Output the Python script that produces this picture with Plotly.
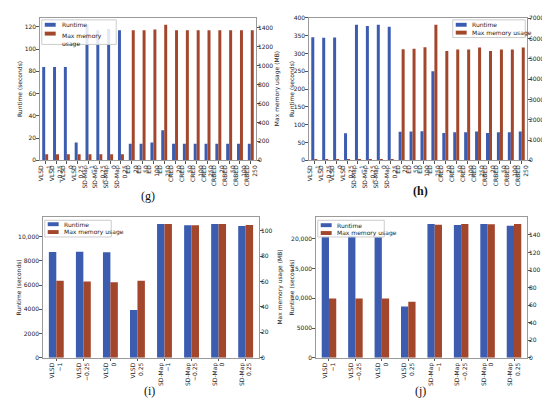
import plotly.graph_objects as go

# ---------------- data ----------------
cats_gh = ["VLSD<br>−1", "VLSD<br>−0.25", "VLSD<br>0", "VLSD<br>0.25",
           "SD-Map<br>−1", "SD-Map<br>−0.25", "SD-Map<br>0", "SD-Map<br>0.25",
           "ED<br>20", "ED<br>50", "ED<br>100", "ED<br>250",
           "CRED<br>20", "CRED<br>50", "CRED<br>100", "CRED<br>250",
           "CRBED<br>20", "CRBED<br>50", "CRBED<br>100", "CRBED<br>250"]
cats_ij = ["VLSD<br>−1", "VLSD<br>−0.25", "VLSD<br>0", "VLSD<br>0.25",
           "SD-Map<br>−1", "SD-Map<br>−0.25", "SD-Map<br>0", "SD-Map<br>0.25"]

runtime_g = [84, 84, 84, 16, 122, 117, 118, 117,
             15, 15, 16, 27, 15, 15, 15, 15, 15, 15, 15, 15]
memory_g = [65, 65, 65, 65, 65, 65, 65, 65,
            1370, 1370, 1380, 1430, 1370, 1370, 1370, 1370, 1370, 1370, 1370, 1370]

runtime_h = [346, 344, 345, 76, 381, 377, 381, 375,
             80, 81, 82, 250, 77, 79, 79, 81, 77, 79, 79, 81]
memory_h = [60, 60, 60, 60, 60, 60, 60, 60,
            5470, 5490, 5570, 6680, 5380, 5460, 5460, 5560, 5380, 5460, 5460, 5560]

runtime_i = [8720, 8750, 8700, 3950, 11035, 10926, 11035, 10870]
memory_i = [60.5, 60.0, 59.5, 60.5, 105.2, 104.2, 105.2, 104.4]

runtime_j = [20390, 20560, 20280, 8610, 22500, 22330, 22500, 22220]
memory_j = [67.6, 67.6, 67.6, 63.8, 151.6, 152.4, 152.0, 152.4]

ticks_g_left = [0, 20, 40, 60, 80, 100, 120]
ticks_g_right = [0, 200, 400, 600, 800, 1000, 1200, 1400]
ticks_h_left = [0, 50, 100, 150, 200, 250, 300, 350, 400]
ticks_h_right = [0, 1000, 2000, 3000, 4000, 5000, 6000, 7000]
ticks_i_left = [0, 2000, 4000, 6000, 8000, 10000]
ticktext_i_left = ["0", "2000", "4000", "6000", "8000", "10,000"]
ticks_i_right = [0, 20, 40, 60, 80, 100]
ticks_j_left = [0, 5000, 10000, 15000, 20000]
ticktext_j_left = ["0", "5000", "10,000", "15,000", "20,000"]
ticks_j_right = [0, 20, 40, 60, 80, 100, 120, 140]

series_names = ["Runtime", "Max memory usage"]
left_title = "Runtime (seconds)"
right_title = "Max memory usage (MB)"

RT_COLOR = "#3c5cb0"
MEM_COLOR = "#a3472c"
FONT = "DejaVu Sans"
W, H = 550, 398

fig = go.Figure()

panels = [
    (cats_gh, runtime_g, memory_g, "x", "y", "y2", (29, 247), (6, 151)),
    (cats_gh, runtime_h, memory_h, "x2", "y3", "y4", (300, 520), (6, 151)),
    (cats_ij, runtime_i, memory_i, "x3", "y5", "y6", (32, 250), (209, 352)),
    (cats_ij, runtime_j, memory_j, "x4", "y7", "y8", (307, 520), (209, 352)),
]
# x positions (px) of left / right axis titles per panel
title_x = [(8, 268), (282, 541), (8, 271), (283, 541)]

for k, (cats, rt, mem, xa, yl, yr, xd, yd) in enumerate(panels):
    fig.add_trace(go.Bar(x=cats, y=rt, name=series_names[0], marker_color=RT_COLOR,
                         marker_line_width=0, xaxis=xa, yaxis=yl, offsetgroup="1",
                         showlegend=False))
    fig.add_trace(go.Bar(x=cats, y=mem, name=series_names[1], marker_color=MEM_COLOR,
                         marker_line_width=0, xaxis=xa, yaxis=yr, offsetgroup="2",
                         showlegend=False))

TF = dict(family=FONT, size=6, color="#222")
axis_common = dict(showline=True, linecolor="#9a9a9a", linewidth=1, mirror=True,
                   ticks="outside", ticklen=2.5, tickcolor="#555", showgrid=False,
                   zeroline=False, tickfont=TF)

def xd_paper(xd):
    return [xd[0] / W, xd[1] / W]

def yd_paper(yd):
    return [1 - yd[1] / H, 1 - yd[0] / H]

left_ticks = [(ticks_g_left, None), (ticks_h_left, None),
              (ticks_i_left, ticktext_i_left), (ticks_j_left, ticktext_j_left)]
right_ticks = [ticks_g_right, ticks_h_right, ticks_i_right, ticks_j_right]

layout = dict(width=W, height=H, margin=dict(l=0, r=0, t=0, b=0),
              paper_bgcolor="white", plot_bgcolor="white",
              barmode="group", bargap=0.45, bargroupgap=0.0, showlegend=False)

shapes = []
annotations = []
TITLE_F = dict(family=FONT, size=6, color="#222")
for k, (cats, rt, mem, xa, yl, yr, xd, yd) in enumerate(panels):
    xname = "xaxis" if xa == "x" else "xaxis" + xa[1:]
    ylname = "yaxis" if yl == "y" else "yaxis" + yl[1:]
    yrname = "yaxis" + yr[1:]
    layout[xname] = dict(axis_common, domain=xd_paper(xd), anchor=yl,
                         range=[-0.5, len(cats) - 0.5], tickangle=-90, ticklabelstandoff=-1,
                         tickfont=dict(family=FONT, size=6, color="#222"))
    tv, tt = left_ticks[k]
    ly = dict(axis_common, domain=yd_paper(yd), anchor=xa, ticklabelstandoff=-1,
              range=[0, max(rt) * 1.05], tickvals=tv)
    if tt is not None:
        ly["ticktext"] = tt
    layout[ylname] = ly
    layout[yrname] = dict(axis_common, domain=yd_paper(yd), anchor=xa, overlaying=yl,
                          side="right", range=[0, max(mem) * 1.05], tickvals=right_ticks[k],
                          mirror=False, ticklabelstandoff=-3)
    ymid = 1 - (yd[0] + yd[1]) / 2 / H
    for tx, txt in zip(title_x[k], [left_title, right_title]):
        annotations.append(dict(text=txt, x=tx / W, y=ymid, xref="paper", yref="paper",
                                showarrow=False, textangle=-90, xanchor="center",
                                yanchor="middle", font=TITLE_F))

# ---- legends (drawn as shapes + text, matching matplotlib's compact legend) ----
legends = [
    (31, 8, 106, 33, [13, 22], 34, 49, "Max memory<br>usage"),
    (445, 8, 518, 26, [13, 21], 448, 462, series_names[1]),
    (34, 212, 101, 229, [216, 224], 37, 51, series_names[1]),
    (309, 212, 376, 229, [217, 225], 312, 326, series_names[1]),
]
for (bx0, by0, bx1, by1, rows, sx, tx, memlabel) in legends:
    shapes.append(dict(type="rect", xref="paper", yref="paper",
                       x0=bx0 / W, x1=bx1 / W, y0=1 - by1 / H, y1=1 - by0 / H,
                       line=dict(color="#cccccc", width=1), fillcolor="rgba(255,255,255,0.85)",
                       layer="above"))
    for ry, col, label in zip(rows, [RT_COLOR, MEM_COLOR], [series_names[0], memlabel]):
        shapes.append(dict(type="rect", xref="paper", yref="paper",
                           x0=sx / W, x1=(sx + 11) / W, y0=1 - (ry + 2) / H, y1=1 - (ry - 2) / H,
                           line=dict(width=0), fillcolor=col, layer="above"))
        annotations.append(dict(text=label, x=tx / W, y=1 - ry / H, xref="paper", yref="paper",
                                showarrow=False, xanchor="left",
                                yanchor="top" if "<br>" in label else "middle",
                                yshift=4 if "<br>" in label else 0,
                                align="left", font=dict(family=FONT, size=6, color="#222")))

captions = [("(g)", 138, 187, False), ("(h)", 413, 182, True),
            ("(i)", 140, 386, False), ("(j)", 413, 386, False)]
for t, cx, cy, b in captions:
    annotations.append(dict(text=("<b>%s</b>" % t) if b else t, x=cx / W, y=1 - cy / H,
                            xref="paper", yref="paper", showarrow=False,
                            xanchor="center", yanchor="middle",
                            font=dict(family="Liberation Serif", size=12, color="#111")))

layout["shapes"] = shapes
layout["annotations"] = annotations

fig.update_layout(**layout)
fig.write_html("out.html")
